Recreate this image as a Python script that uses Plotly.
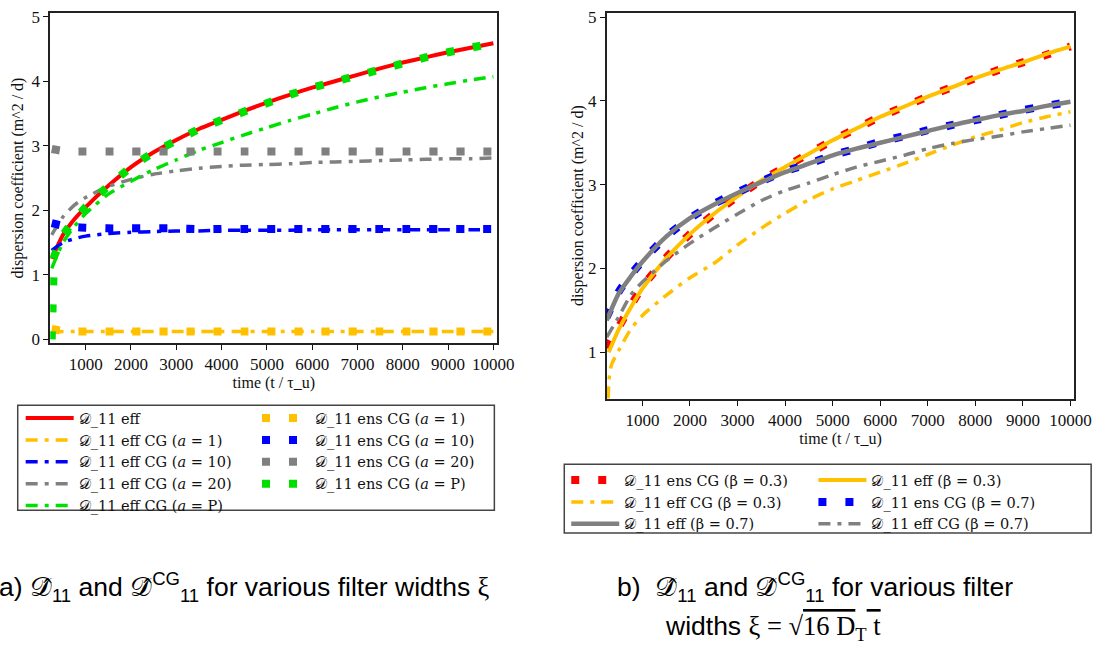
import plotly.graph_objects as go

W, H = 1117, 653

# ---------------- data: panel a ----------------
T_A = [250, 500, 750, 1000, 1500, 2000, 2500, 3000, 3500, 4000, 4500, 5000,
       5500, 6000, 6500, 7000, 7500, 8000, 8500, 9000, 9500, 10000]
A_EFF = [1.25, 1.62, 1.86, 2.05, 2.38, 2.67, 2.90, 3.09, 3.26, 3.40, 3.54, 3.67,
         3.79, 3.90, 4.00, 4.10, 4.20, 4.29, 4.37, 4.45, 4.52, 4.59]
A_EFFCG_1 = [0.11, 0.12, 0.12, 0.12, 0.12, 0.12, 0.12, 0.12, 0.12, 0.12, 0.12, 0.12,
             0.12, 0.12, 0.12, 0.12, 0.12, 0.12, 0.12, 0.12, 0.12, 0.12]
A_EFFCG_10 = [1.38, 1.50, 1.56, 1.60, 1.64, 1.66, 1.67, 1.68, 1.68, 1.69, 1.69, 1.69,
              1.69, 1.70, 1.70, 1.70, 1.70, 1.70, 1.70, 1.70, 1.70, 1.70]
A_EFFCG_20 = [1.62, 1.90, 2.08, 2.20, 2.37, 2.48, 2.56, 2.61, 2.65, 2.68, 2.70, 2.71,
              2.72, 2.74, 2.75, 2.76, 2.77, 2.78, 2.79, 2.80, 2.80, 2.81]
A_EFFCG_P = [1.10, 1.50, 1.75, 1.95, 2.25, 2.45, 2.63, 2.78, 2.93, 3.05, 3.17, 3.28,
             3.39, 3.49, 3.59, 3.68, 3.76, 3.83, 3.90, 3.96, 4.02, 4.07]
A_ENS_1 = [0.16, 0.13, 0.12, 0.12, 0.12, 0.12, 0.12, 0.12, 0.12, 0.12, 0.12, 0.12,
           0.12, 0.12, 0.12, 0.12, 0.12, 0.12, 0.12, 0.12, 0.12, 0.12]
A_ENS_10 = [1.80, 1.76, 1.74, 1.73, 1.72, 1.72, 1.72, 1.72, 1.71, 1.71, 1.71, 1.71,
            1.71, 1.71, 1.71, 1.71, 1.71, 1.71, 1.71, 1.71, 1.71, 1.71]
A_ENS_20 = [2.95, 2.92, 2.91, 2.91, 2.91, 2.91, 2.91, 2.91, 2.91, 2.91, 2.91, 2.91,
            2.91, 2.91, 2.91, 2.91, 2.91, 2.91, 2.91, 2.91, 2.91, 2.91]
T_AP = [250, 258, 266, 275, 300, 400, 500, 750, 1000, 1500, 2000, 2500, 3000, 3500,
        4000, 4500, 5000, 5500, 6000, 6500, 7000, 7500, 8000, 8500, 9000, 9500, 10000]
A_ENS_P = [0.00, 0.50, 0.95, 1.15, 1.28, 1.45, 1.62, 1.86, 2.05, 2.38, 2.67, 2.90,
           3.09, 3.26, 3.40, 3.54, 3.67, 3.79, 3.90, 4.00, 4.10, 4.20, 4.29, 4.37,
           4.45, 4.52, 4.59]

# ---------------- data: panel b ----------------
T_B = [250, 500, 750, 1000, 1500, 2000, 2500, 3000, 3500, 4000, 4500, 5000,
       5500, 6000, 6500, 7000, 7500, 8000, 8500, 9000, 9500, 10000]
T_B03 = [290, 500, 750, 1000, 1500, 2000, 2500, 3000, 3500, 4000, 4500, 5000,
         5500, 6000, 6500, 7000, 7500, 8000, 8500, 9000, 9500, 10000]
T_BCG03 = [280, 300, 350, 500, 750, 1000, 1500, 2000, 2500, 3000, 3500, 4000, 4500,
           5000, 5500, 6000, 6500, 7000, 7500, 8000, 8500, 9000, 9500, 10000]
B_ENS_03 = [1.05, 1.30, 1.55, 1.78, 2.13, 2.41, 2.65, 2.86, 3.05, 3.21, 3.37, 3.53,
            3.67, 3.81, 3.93, 4.05, 4.16, 4.27, 4.37, 4.46, 4.55, 4.65]
B_EFF_03 = [1.00, 1.27, 1.53, 1.76, 2.12, 2.41, 2.65, 2.86, 3.05, 3.21, 3.37, 3.53,
            3.67, 3.81, 3.93, 4.05, 4.16, 4.27, 4.37, 4.46, 4.56, 4.65]
B_EFFCG_03 = [0.45, 0.68, 0.85, 1.02, 1.27, 1.44, 1.68, 1.89, 2.06, 2.28, 2.48, 2.66,
              2.82, 2.95, 3.05, 3.15, 3.25, 3.36, 3.47, 3.57, 3.65, 3.74, 3.81, 3.87]
B_ENS_07 = [1.42, 1.72, 1.92, 2.09, 2.38, 2.60, 2.77, 2.91, 3.04, 3.16, 3.25, 3.35,
            3.43, 3.51, 3.58, 3.65, 3.71, 3.77, 3.83, 3.89, 3.94, 3.99]
B_EFF_07 = [1.38, 1.70, 1.90, 2.08, 2.38, 2.60, 2.76, 2.90, 3.03, 3.15, 3.25, 3.35,
            3.43, 3.50, 3.57, 3.64, 3.71, 3.77, 3.83, 3.88, 3.94, 3.99]
B_EFFCG_07 = [1.18, 1.42, 1.68, 1.84, 2.09, 2.30, 2.48, 2.65, 2.81, 2.93, 3.02, 3.12,
              3.21, 3.28, 3.35, 3.43, 3.49, 3.54, 3.58, 3.63, 3.67, 3.71]

X_TICKS = [1000, 2000, 3000, 4000, 5000, 6000, 7000, 8000, 9000, 10000]
X_TICKTEXT = ["1000", "2000", "3000", "4000", "5000", "6000", "7000", "8000", "9000", "10000"]
YA_TICKS = [0, 1, 2, 3, 4, 5]
YB_TICKS = [1, 2, 3, 4, 5]

RED, GOLD, BLUE, GRAY, GREEN = "#FF0000", "#FFC000", "#0000FF", "#808080", "#00E000"
SERIF = "Liberation Serif"
LEGSERIF = "DejaVu Serif"
DD = "𝒟"
DASHDOT = "12px,7px,4px,7px"
SQ = "8px,19px"
Y_TITLE = "dispersion coefficient (m^2 / d)"
X_TITLE = "time (t / τ_u)"


def px(x):
    return x / W


def py(y):
    return 1 - y / H


fig = go.Figure()


def add(x, y, name, color, width, dash, xa, ya, legend, rank=None, shape="spline"):
    fig.add_trace(go.Scatter(
        x=x, y=y, name=name, mode="lines",
        line=dict(color=color, width=width, dash=dash, shape=shape, smoothing=0.6),
        xaxis=xa, yaxis=ya, legend=legend,
        legendrank=rank if rank is not None else 1000,
        hoverinfo="skip"))


# panel a traces
add(T_A, A_EFF, f"{DD}_11 eff", RED, 4, "solid", "x", "y", "legend")
add(T_A, A_EFFCG_1, f"{DD}_11 eff CG (<i>a</i> = 1)", GOLD, 3.5, DASHDOT, "x", "y", "legend")
add(T_A, A_EFFCG_10, f"{DD}_11 eff CG (<i>a</i> = 10)", BLUE, 3.5, DASHDOT, "x", "y", "legend")
add(T_A, A_EFFCG_20, f"{DD}_11 eff CG (<i>a</i> = 20)", GRAY, 3.5, DASHDOT, "x", "y", "legend")
add(T_A, A_EFFCG_P, f"{DD}_11 eff CG (<i>a</i> = P)", GREEN, 3.5, DASHDOT, "x", "y", "legend")
add(T_A, A_ENS_1, f"{DD}_11 ens CG (<i>a</i> = 1)", GOLD, 8, SQ, "x", "y", "legend2")
add(T_A, A_ENS_10, f"{DD}_11 ens CG (<i>a</i> = 10)", BLUE, 8, SQ, "x", "y", "legend2")
add(T_A, A_ENS_20, f"{DD}_11 ens CG (<i>a</i> = 20)", GRAY, 8, SQ, "x", "y", "legend2")
add(T_AP, A_ENS_P, f"{DD}_11 ens CG (<i>a</i> = P)", GREEN, 8, SQ, "x", "y", "legend2", shape="linear")

# panel b traces (drawing order: ens below eff)
add(T_B, B_ENS_03, f"{DD}_11 ens CG (β = 0.3)", RED, 8, SQ, "x2", "y2", "legend3", 1)
add(T_B03, B_EFF_03, f"{DD}_11 eff (β = 0.3)", GOLD, 4, "solid", "x2", "y2", "legend4", 1)
add(T_BCG03, B_EFFCG_03, f"{DD}_11 eff CG (β = 0.3)", GOLD, 3.5, DASHDOT, "x2", "y2", "legend3", 2)
add(T_B, B_ENS_07, f"{DD}_11 ens CG (β = 0.7)", BLUE, 8, SQ, "x2", "y2", "legend4", 2)
add(T_B, B_EFF_07, f"{DD}_11 eff (β = 0.7)", GRAY, 4.5, "solid", "x2", "y2", "legend3", 3)
add(T_B, B_EFFCG_07, f"{DD}_11 eff CG (β = 0.7)", GRAY, 3.5, DASHDOT, "x2", "y2", "legend4", 3)

tickfont = dict(family=SERIF, size=17, color="#111")
titlefont = dict(family=SERIF, size=16, color="#111")
common_x = dict(tickvals=X_TICKS, ticktext=X_TICKTEXT, ticks="outside", ticklen=5, tickwidth=1,
                tickcolor="#111", showline=True, linecolor="#222", linewidth=1.5, mirror=True,
                showgrid=False, zeroline=False, tickfont=tickfont)
common_y = dict(ticks="outside", ticklen=5, tickwidth=1, tickcolor="#111",
                showline=True, linecolor="#222", linewidth=1.5, mirror=True,
                showgrid=False, zeroline=False, tickfont=tickfont)

legfont = dict(family=LEGSERIF, size=14.5, color="#111")
leg = dict(bgcolor="rgba(0,0,0,0)", borderwidth=0, font=legfont, xanchor="left",
           yanchor="top", tracegroupgap=0, itemwidth=48, traceorder="normal")

fig.update_layout(
    width=W, height=H, margin=dict(l=0, r=0, t=0, b=0),
    paper_bgcolor="white", plot_bgcolor="white",
    xaxis=dict(domain=[px(51), px(505)], range=[217, 10087], anchor="y",
               title=dict(text=X_TITLE, font=titlefont, standoff=2), **common_x),
    yaxis=dict(domain=[py(344), py(8)], range=[-0.06, 5.06], tickvals=YA_TICKS, anchor="x",
               title=dict(text=Y_TITLE, font=titlefont, standoff=4), **common_y),
    xaxis2=dict(domain=[px(616), px(1091)], range=[248, 10083], anchor="y2",
                title=dict(text=X_TITLE, font=titlefont, standoff=2), **common_x),
    yaxis2=dict(domain=[py(401), py(8)], range=[0.44, 5.05], tickvals=YB_TICKS, anchor="x2",
                **common_y),
    legend=dict(x=px(21), y=py(404), **leg),
    legend2=dict(x=px(261), y=py(404), **leg),
    legend3=dict(x=px(575), y=py(467), **leg),
    legend4=dict(x=px(826), y=py(467), **leg),
    showlegend=True,
)

# right panel y title placed explicitly
fig.add_annotation(xref="paper", yref="paper", x=px(587), y=py(204.5), xanchor="center",
                   yanchor="middle", textangle=-90, showarrow=False, font=titlefont,
                   text=Y_TITLE)

# legend frames
fig.add_shape(type="rect", xref="paper", yref="paper", x0=px(18), x1=px(502),
              y0=py(514), y1=py(407), line=dict(color="#444", width=1.5))
fig.add_shape(type="rect", xref="paper", yref="paper", x0=px(573), x1=px(1108),
              y0=py(537), y1=py(467), line=dict(color="#444", width=1.5))

capfont = dict(family="Liberation Sans", size=26.5, color="#000")
cm = "Liberation Serif"
hat = "𝒟\u0302"
fig.add_annotation(
    xref="paper", yref="paper", x=px(-3), y=py(592), xanchor="left", yanchor="middle",
    showarrow=False, font=capfont, align="left",
    text=f"a) {hat}<sub>11</sub> and {hat}<sup>CG</sup><sub>11</sub> for various filter widths "
         f"<span style='font-family:{cm}'>ξ</span>")
fig.add_annotation(
    xref="paper", yref="paper", x=px(624), y=py(592), xanchor="left", yanchor="middle",
    showarrow=False, font=capfont, align="left",
    text=f"b)  {hat}<sub>11</sub> and {hat}<sup>CG</sup><sub>11</sub> for various filter")
fig.add_annotation(
    xref="paper", yref="paper", x=px(673), y=py(634), xanchor="left", yanchor="middle",
    showarrow=False, font=capfont, align="left",
    text=f"widths <span style='font-family:{cm}'>ξ = √"
         f"<span style='text-decoration:overline'>16 D</span><sub>T</sub>"
         f"<span style='text-decoration:overline'> t</span></span>")

fig.write_html("out.html", config={"displayModeBar": False},
               post_script="document.body.style.margin='0';")
